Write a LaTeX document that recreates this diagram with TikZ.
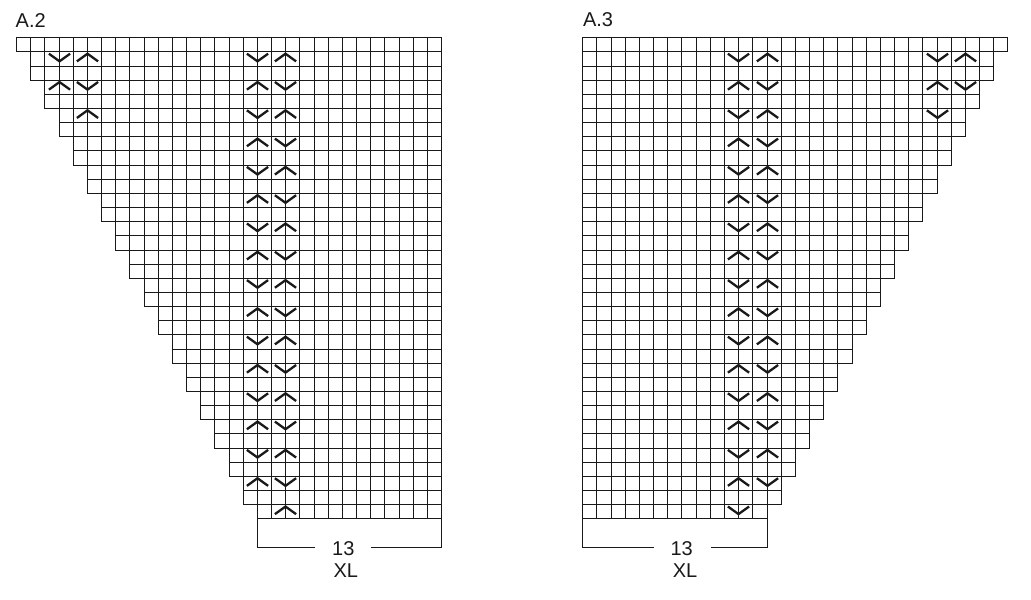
\documentclass[tikz,border=0pt]{standalone}
\usepackage{fontspec}
\setmainfont{Liberation Sans}

\tikzset{
  cell/.style={draw=black!90, line width=1.6bp},
  stitch/.style={draw=black!90, line width=2.3bp},
  chart text/.style={inner sep=0pt, font=\fontsize{20bp}{22bp}\selectfont, text=black!90}
}

% put grid lines on pixel centres
\pgfmathdeclarefunction{snap}{1}{\pgfmathparse{round(#1)+0.5}}

\newcommand{\cellw}{14.17}
\newcommand{\cellh}{14.15}
\newcommand{\chartY}{37.3}

% one cell: #1 chart left edge, #2 column, #3 row
\newcommand{\gridcell}[3]{\draw[cell] ({snap(#1+#2*\cellw)},{snap(\chartY+(#3-1)*\cellh)}) rectangle ({snap(#1+(#2+1)*\cellw)},{snap(\chartY+#3*\cellh)});}

% decrease marks on grid line #2 of row #3
\newcommand{\decV}[3]{\draw[stitch] ({snap(#1+#2*\cellw)-10.6},{\chartY+(#3-0.84)*\cellh}) -- ++(10.6,7.6) -- ++(10.6,-7.6);}
\newcommand{\decA}[3]{\draw[stitch] ({snap(#1+#2*\cellw)-10.6},{\chartY+(#3-0.3)*\cellh}) -- ++(10.6,-7.6) -- ++(10.6,7.6);}

\begin{document}
\begin{tikzpicture}[x=1bp, y=-1bp]
\useasboundingbox (0,0) rectangle (1031,600);

% chart A.2
\node[chart text, anchor=base west] (titleA) at (15.5,27.3) {A.2};
\foreach \r in {1,...,34}{
  \pgfmathtruncatemacro{\s}{floor(\r/2)}
  \foreach \c in {\s,...,29} {\gridcell{16}{\c}{\r}}
}
\decV{16}{3}{2} \decA{16}{5}{2}
\decA{16}{3}{4} \decV{16}{5}{4}
\decA{16}{5}{6}
\foreach \k in {1,...,16}{
  \pgfmathtruncatemacro{\r}{2*\k}
  \ifodd\k\relax \decV{16}{17}{\r} \decA{16}{19}{\r} \else \decA{16}{17}{\r} \decV{16}{19}{\r} \fi
}
\decA{16}{19}{34}
% width bracket
\node[chart text] (countA) at (343.3,548.7) {13};
\node[chart text] (sizeA) at (345.8,570.5) {XL};
\draw[cell] ({snap(16+17*\cellw)},{snap(\chartY+34*\cellh)}) |- ({snap(16+21*\cellw)},{snap(\chartY+36*\cellh)});
\draw[cell] ({snap(16+25*\cellw)},{snap(\chartY+36*\cellh)}) -| ({snap(16+30*\cellw)},{snap(\chartY+34*\cellh)});

% chart A.3
\node[chart text, anchor=base west] (titleB) at (582.8,26.7) {A.3};
\foreach \r in {1,...,34}{
  \pgfmathtruncatemacro{\e}{29-floor(\r/2)}
  \foreach \c in {0,...,\e} {\gridcell{582.3}{\c}{\r}}
}
\decV{582.3}{25}{2} \decA{582.3}{27}{2}
\decA{582.3}{25}{4} \decV{582.3}{27}{4}
\decV{582.3}{25}{6}
\foreach \k in {1,...,16}{
  \pgfmathtruncatemacro{\r}{2*\k}
  \ifodd\k\relax \decV{582.3}{11}{\r} \decA{582.3}{13}{\r} \else \decA{582.3}{11}{\r} \decV{582.3}{13}{\r} \fi
}
\decV{582.3}{11}{34}
% width bracket
\node[chart text] (countB) at (681.7,548.7) {13};
\node[chart text] (sizeB) at (685,570.5) {XL};
\draw[cell] ({snap(582.3)},{snap(\chartY+34*\cellh)}) |- ({snap(582.3+5*\cellw)},{snap(\chartY+36*\cellh)});
\draw[cell] ({snap(582.3+9*\cellw)},{snap(\chartY+36*\cellh)}) -| ({snap(582.3+13*\cellw)},{snap(\chartY+34*\cellh)});
\end{tikzpicture}
\end{document}
